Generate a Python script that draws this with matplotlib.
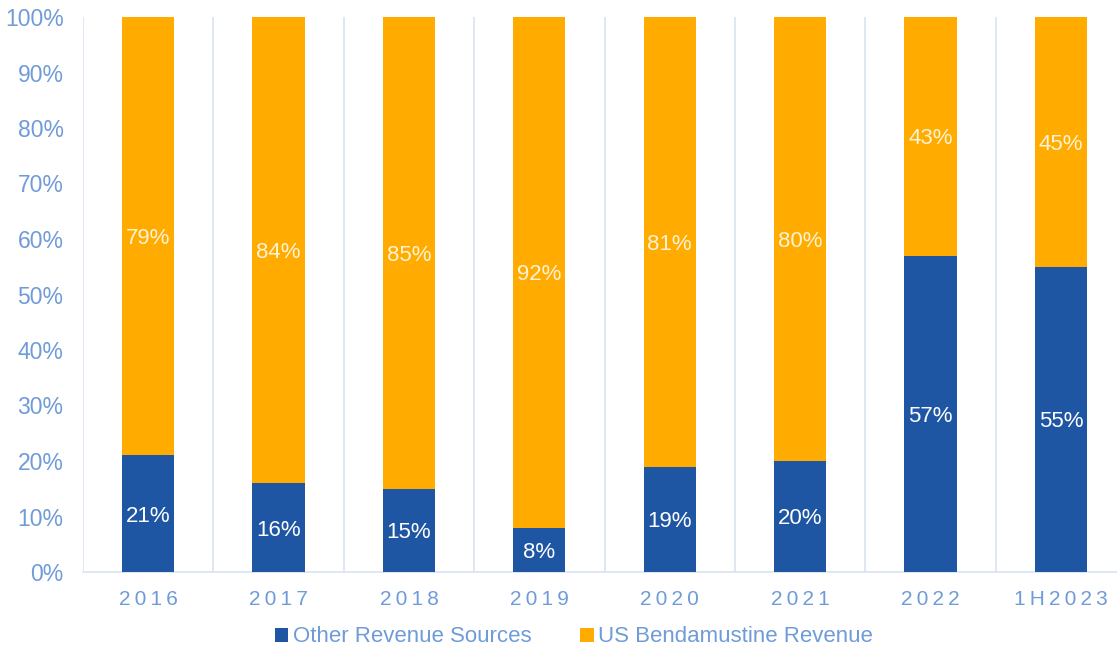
import matplotlib
matplotlib.use("Agg")
import matplotlib.pyplot as plt
import numpy as np

categories = ["2016", "2017", "2018", "2019", "2020", "2021", "2022", "1H2023"]
other_revenue = [21, 16, 15, 8, 19, 20, 57, 55]
us_bendamustine = [79, 84, 85, 92, 81, 80, 43, 45]
series_names = ["Other Revenue Sources", "US Bendamustine Revenue"]

BLUE = "#1F56A3"
ORANGE = "#FFAB00"
TICK = "#6F9BD8"
GRID = "#D9E3F1"

plt.rcParams['font.family'] = ['Liberation Sans', 'DejaVu Sans']

fig = plt.figure(figsize=(11.17, 6.53), dpi=100)
ax = fig.add_axes([83/1117, 1 - 572/653, (1126 - 83)/1117, (572 - 17)/653])

x = np.arange(len(categories))
w = 0.4
b1 = ax.bar(x, other_revenue, width=w, color=BLUE, label=series_names[0], zorder=3)
b2 = ax.bar(x, us_bendamustine, width=w, bottom=other_revenue, color=ORANGE,
            label=series_names[1], zorder=3)

for i in range(len(categories)):
    ax.text(x[i], other_revenue[i] / 2, f"{other_revenue[i]}%", ha="center",
            va="center_baseline", color="white", fontsize=16, zorder=4)
    ax.text(x[i], other_revenue[i] + us_bendamustine[i] / 2, f"{us_bendamustine[i]}%",
            ha="center", va="center_baseline", color="#FFF3D6", fontsize=16, zorder=4)

ax.set_xlim(-0.5, len(categories) - 0.5)
ax.set_ylim(0, 100)
ax.set_yticks(np.arange(0, 101, 10))
ax.set_yticklabels([f"{v}%" for v in range(0, 101, 10)])
ax.set_xticks(x)
ax.set_xticklabels(["\u2009".join(c) for c in categories])

for b in np.arange(-0.5, len(categories), 1.0):
    ax.axvline(b, color=GRID, lw=1.2, zorder=1)

for s in ["top", "right", "left"]:
    ax.spines[s].set_visible(False)
ax.spines["bottom"].set_color(GRID)
ax.spines["bottom"].set_linewidth(1.2)

ax.tick_params(axis="y", length=0, labelsize=16.5, labelcolor=TICK, pad=14)
ax.tick_params(axis="x", length=0, labelsize=15, labelcolor=TICK, pad=13)

leg = fig.legend(handles=[b1, b2], labels=series_names, loc="center",
                 bbox_to_anchor=(574/1117, 1 - 637/653), ncol=2, frameon=False,
                 fontsize=16, handlelength=0.6, handleheight=0.6, handletextpad=0.2,
                 columnspacing=2.2)
for t in leg.get_texts():
    t.set_color(TICK)

fig.savefig("out.png", dpi=100)
